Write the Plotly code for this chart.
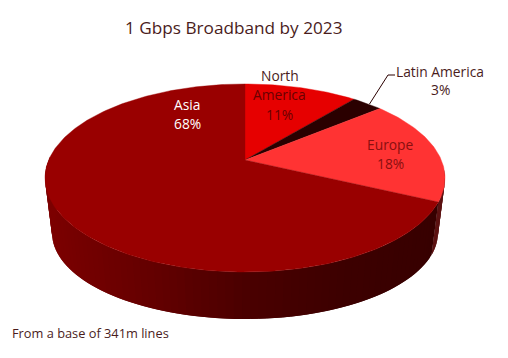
import numpy as np
import plotly.graph_objects as go

categories = ["North America", "Latin America", "Europe", "Asia"]
shares = [11, 3, 18, 68]
top_colors = ["#E60000", "#2A0000", "#FF3333", "#990000"]
title_text = "1 Gbps Broadband by 2023"
note_text = "From a base of 341m lines"

# projection of the tilted disc, in page pixels
CX, PERSP = 245.0, 0.1915
TOP = dict(y0=160.0, a=90.6, r=196.3)
BOT = dict(y0=216.5, a=82.9, r=189.4)


def project(theta, d):
    u, v = np.sin(theta), np.cos(theta)
    w = 1 / (1 + PERSP * v)
    return CX + d["r"] * u * w, d["y0"] - d["a"] * v * w


def side_color(x, base):
    f = np.interp(x, [50, 150, 245, 340, 440], [0.82, 0.66, 0.49, 0.40, 0.36])
    return "rgb(%d,%d,%d)" % tuple(int(c * f) for c in base)


def rgb(h):
    return tuple(int(h[i:i + 2], 16) for i in (1, 3, 5))


fig = go.Figure()
edges = np.radians(np.cumsum([0] + shares) * 3.6)
vis_start, vis_end = np.radians(96), np.radians(272)

# side walls: each band reaches through the next one so no seams show
for i in range(len(shares)):
    a0, a1 = max(edges[i], vis_start), min(edges[i + 1], vis_end)
    if a1 <= a0:
        continue
    steps = np.linspace(a0, a1, int(np.degrees(a1 - a0) / 2.0) + 2)
    for k in range(len(steps) - 1):
        th = np.array([steps[k], steps[min(k + 2, len(steps) - 1)]])
        xt, yt = project(th, TOP)
        xb, yb = project(th, BOT)
        mx, _ = project(np.array([(steps[k] + steps[k + 1]) / 2]), BOT)
        col = side_color(mx[0], rgb(top_colors[i]))
        fig.add_trace(go.Scatter(
            x=[xt[0], xt[1], xb[1], xb[0], xt[0]],
            y=[yt[0], yt[1], yb[1], yb[0], yt[0]],
            mode="lines", fill="toself", fillcolor=col,
            line=dict(color=col, width=0), hoverinfo="skip", showlegend=False))

# top faces
for i, name in enumerate(categories):
    th = np.linspace(edges[i], edges[i + 1], max(int(shares[i] * 3.6), 4))
    x, y = project(th, TOP)
    ax, ay = CX, TOP["y0"]
    fig.add_trace(go.Scatter(
        x=np.r_[ax, x, ax], y=np.r_[ay, y, ay],
        mode="lines", fill="toself", fillcolor=top_colors[i],
        line=dict(color=top_colors[i], width=0.4), name=name,
        hoverinfo="skip", showlegend=False))

# leader line for the small slice
fig.add_trace(go.Scatter(
    x=[369.5, 388, 395], y=[104, 75, 75], mode="lines",
    line=dict(color="#2A0000", width=1), hoverinfo="skip", showlegend=False))

FONT = "Open Sans"
TXT = "#4A1C1C"


def label(x, y, text, color=TXT, size=13.8, anchor="center"):
    fig.add_annotation(x=x, y=y, text=text, showarrow=False, xanchor=anchor, yanchor="middle",
                       align="center" if anchor == "center" else "left",
                       font=dict(family=FONT, size=size, color=color))


label(234, 27, title_text, size=17.2)
label(280, 75, "North")
label(279, 94, "America", color="#6A0000")
label(279, 114, "11%", color="#6A0000")
label(440, 71, "Latin America")
label(440, 89, "3%")
label(390, 144, "Europe", color="#8A0F0F")
label(390, 163, "18%", color="#8A0F0F")
label(187, 104, "Asia", color="#FFFFFF")
label(187, 123, "68%", color="#FFFFFF")
label(10, 333, note_text, size=12.8, anchor="left")

fig.update_layout(
    width=508, height=358, margin=dict(l=0, r=0, t=0, b=0),
    paper_bgcolor="white", plot_bgcolor="white", showlegend=False,
    xaxis=dict(range=[0, 508], visible=False, fixedrange=True),
    yaxis=dict(range=[358, 0], visible=False, fixedrange=True),
)
fig.write_html("out.html", config={"displayModeBar": False},
               post_script="document.body.style.margin='0';document.documentElement.style.overflow='hidden';")
